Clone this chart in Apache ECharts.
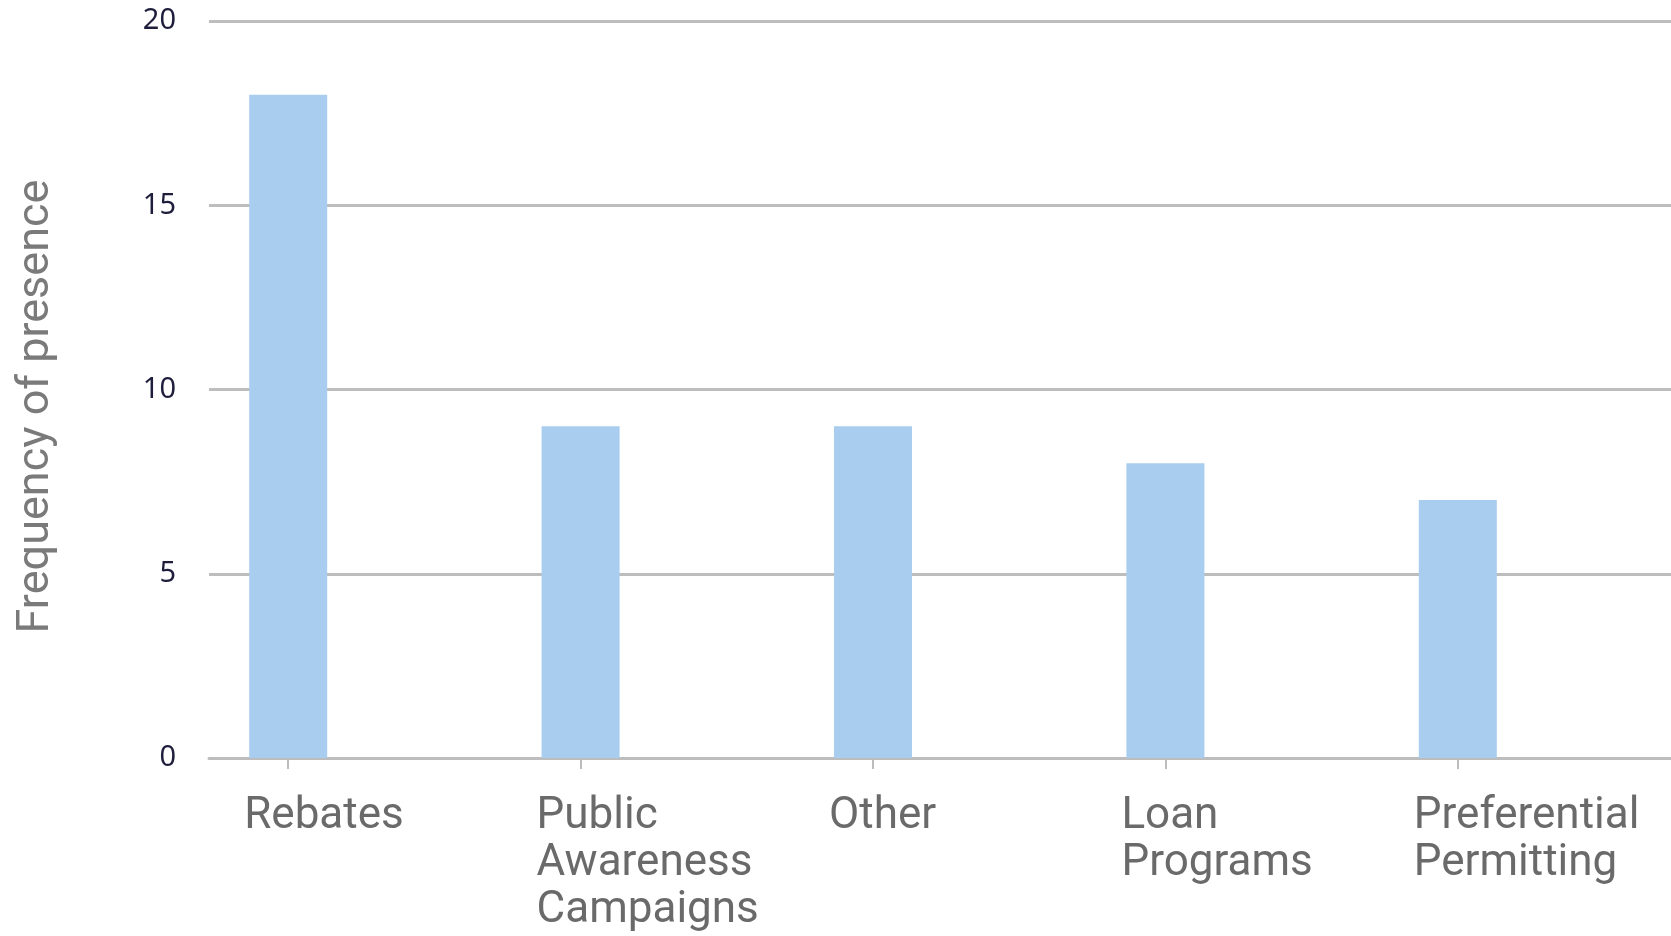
<!DOCTYPE html>
<html>
<head>
<meta charset="utf-8">
<script src="https://cdn.jsdelivr.net/npm/echarts@6/dist/echarts.min.js"></script>
<style>
html,body{margin:0;padding:0;background:#fff;}
#chart{width:1671px;height:936px;}
</style>
</head>
<body>
<div id="chart"></div>
<script>
const categories = ['Rebates', 'Public\nAwareness\nCampaigns', 'Other', 'Loan\nPrograms', 'Preferential\nPermitting'];
const frequency = [18, 9, 9, 8, 7];
const yTicks = [0, 5, 10, 15, 20];
const yAxisName = 'Frequency of presence';

const chart = echarts.init(document.getElementById('chart'));
const gray = '#bdbdbd';
const font = 'Roboto';
chart.setOption({
  animation: false,
  backgroundColor: '#ffffff',
  grid: [
    { left: 209, right: 0, top: 21, bottom: 178 },
    { left: 142, right: 67, top: 21, bottom: 178 }
  ],
  xAxis: [
    { type: 'category', gridIndex: 0, data: categories,
      axisLine: { show: true, lineStyle: { color: gray, width: 3 } },
      axisTick: { show: false }, axisLabel: { show: false }, splitLine: { show: false } },
    { type: 'category', gridIndex: 1, data: categories,
      axisLine: { show: false },
      axisTick: { show: true, alignWithLabel: true, interval: 0, length: 11, lineStyle: { color: gray, width: 2 } },
      axisLabel: { show: true, interval: 0, hideOverlap: false, align: 'left', verticalAlign: 'top', margin: 35,
        padding: [0, 0, 0, -44],
        fontFamily: font, fontSize: 44, lineHeight: 47, color: '#6a6a6a' },
      splitLine: { show: false } }
  ],
  yAxis: [
    { type: 'value', gridIndex: 0, min: yTicks[0], max: yTicks[yTicks.length - 1], interval: 5,
      name: yAxisName, nameLocation: 'middle', nameGap: 150, nameRotate: 90,
      nameTextStyle: { fontFamily: font, fontSize: 45, color: '#7a7a7a', padding: [0, 34, 0, 0] },
      axisLine: { show: false }, axisTick: { show: false },
      axisLabel: { margin: 33, fontFamily: 'Noto Sans', fontSize: 29, color: '#1e1e3c' },
      splitLine: { show: true, lineStyle: { color: gray, width: 3 } } },
    { type: 'value', gridIndex: 1, min: yTicks[0], max: yTicks[yTicks.length - 1], interval: 5,
      show: false, splitLine: { show: false } }
  ],
  series: [
    { type: 'bar', xAxisIndex: 1, yAxisIndex: 1, data: frequency, barWidth: 78,
      itemStyle: { color: '#a8cdee' } }
  ]
});
</script>
</body>
</html>
